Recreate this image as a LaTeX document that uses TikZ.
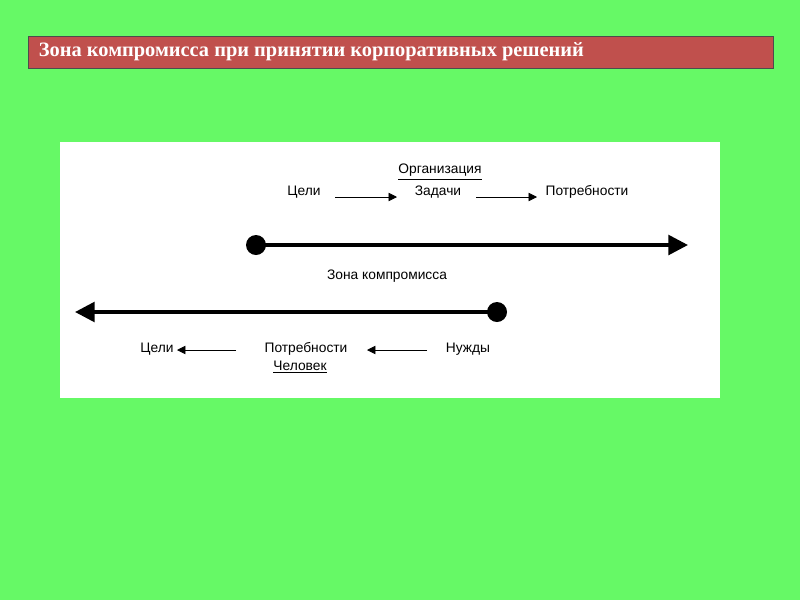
\documentclass[tikz,border=0pt]{standalone}
\usepackage{fontspec}
\setmainfont{Liberation Sans}
\newfontfamily\titlefont{Liberation Serif}
\usetikzlibrary{arrows.meta}
\definecolor{bg}{HTML}{66F966}
\definecolor{bar}{HTML}{C0504D}
\tikzset{
 lbl/.style={font=\fontsize{9.8}{11}\selectfont, inner sep=1pt},
 thin arr/.style={-{Triangle[length=6pt,width=6pt]}, line width=0.6pt},
 big arr/.style={-{Triangle[length=14pt,width=14pt]}, line width=2.6pt},
}
\begin{document}
\begin{tikzpicture}[x=0.025cm,y=-0.025cm]
\fill[bg] (0,0) rectangle (800,600);
\draw[fill=bar, draw=black!70, line width=0.6pt] (28,36) rectangle (773,68);
\node[anchor=west, text=white, font=\titlefont\bfseries\fontsize{14.5}{16}\selectfont] (title) at (34,52) {Зона компромисса при принятии корпоративных решений};
\fill[white] (60,142) rectangle (720,398);
% top
\node[lbl] (org) at (440,172) {\underline{Организация}};
\node[lbl] (c1) at (304,192) {Цели};
\node[lbl] (z1) at (438,192) {Задачи};
\node[lbl] (p1) at (587,192) {Потребности};
\coordinate (a1s) at (335,197); \coordinate (a1e) at (397,197);
\coordinate (a2s) at (476,197); \coordinate (a2e) at (537,197);
\draw[thin arr] (a1s) -- (a1e);
\draw[thin arr] (a2s) -- (a2e);
\fill (256,245) circle (10) coordinate (d1);
\coordinate (e1) at (688,245);
\draw[big arr] (d1) -- (e1);
\node[lbl] (zona) at (387,276) {Зона компромисса};
\fill (497,312) circle (10) coordinate (d2);
\coordinate (e2) at (75,312);
\draw[big arr] (d2) -- (e2);
% bottom
\node[lbl] (c2) at (157,349) {Цели};
\node[lbl] (p2) at (306,349) {Потребности};
\node[lbl] (n2) at (468,349) {Нужды};
\node[lbl] (ch) at (300,367) {\underline{Человек}};
\coordinate (b1s) at (427,350); \coordinate (b1e) at (367,350);
\coordinate (b2s) at (236,350); \coordinate (b2e) at (177,350);
\draw[thin arr] (b1s) -- (b1e);
\draw[thin arr] (b2s) -- (b2e);
\end{tikzpicture}
\end{document}
